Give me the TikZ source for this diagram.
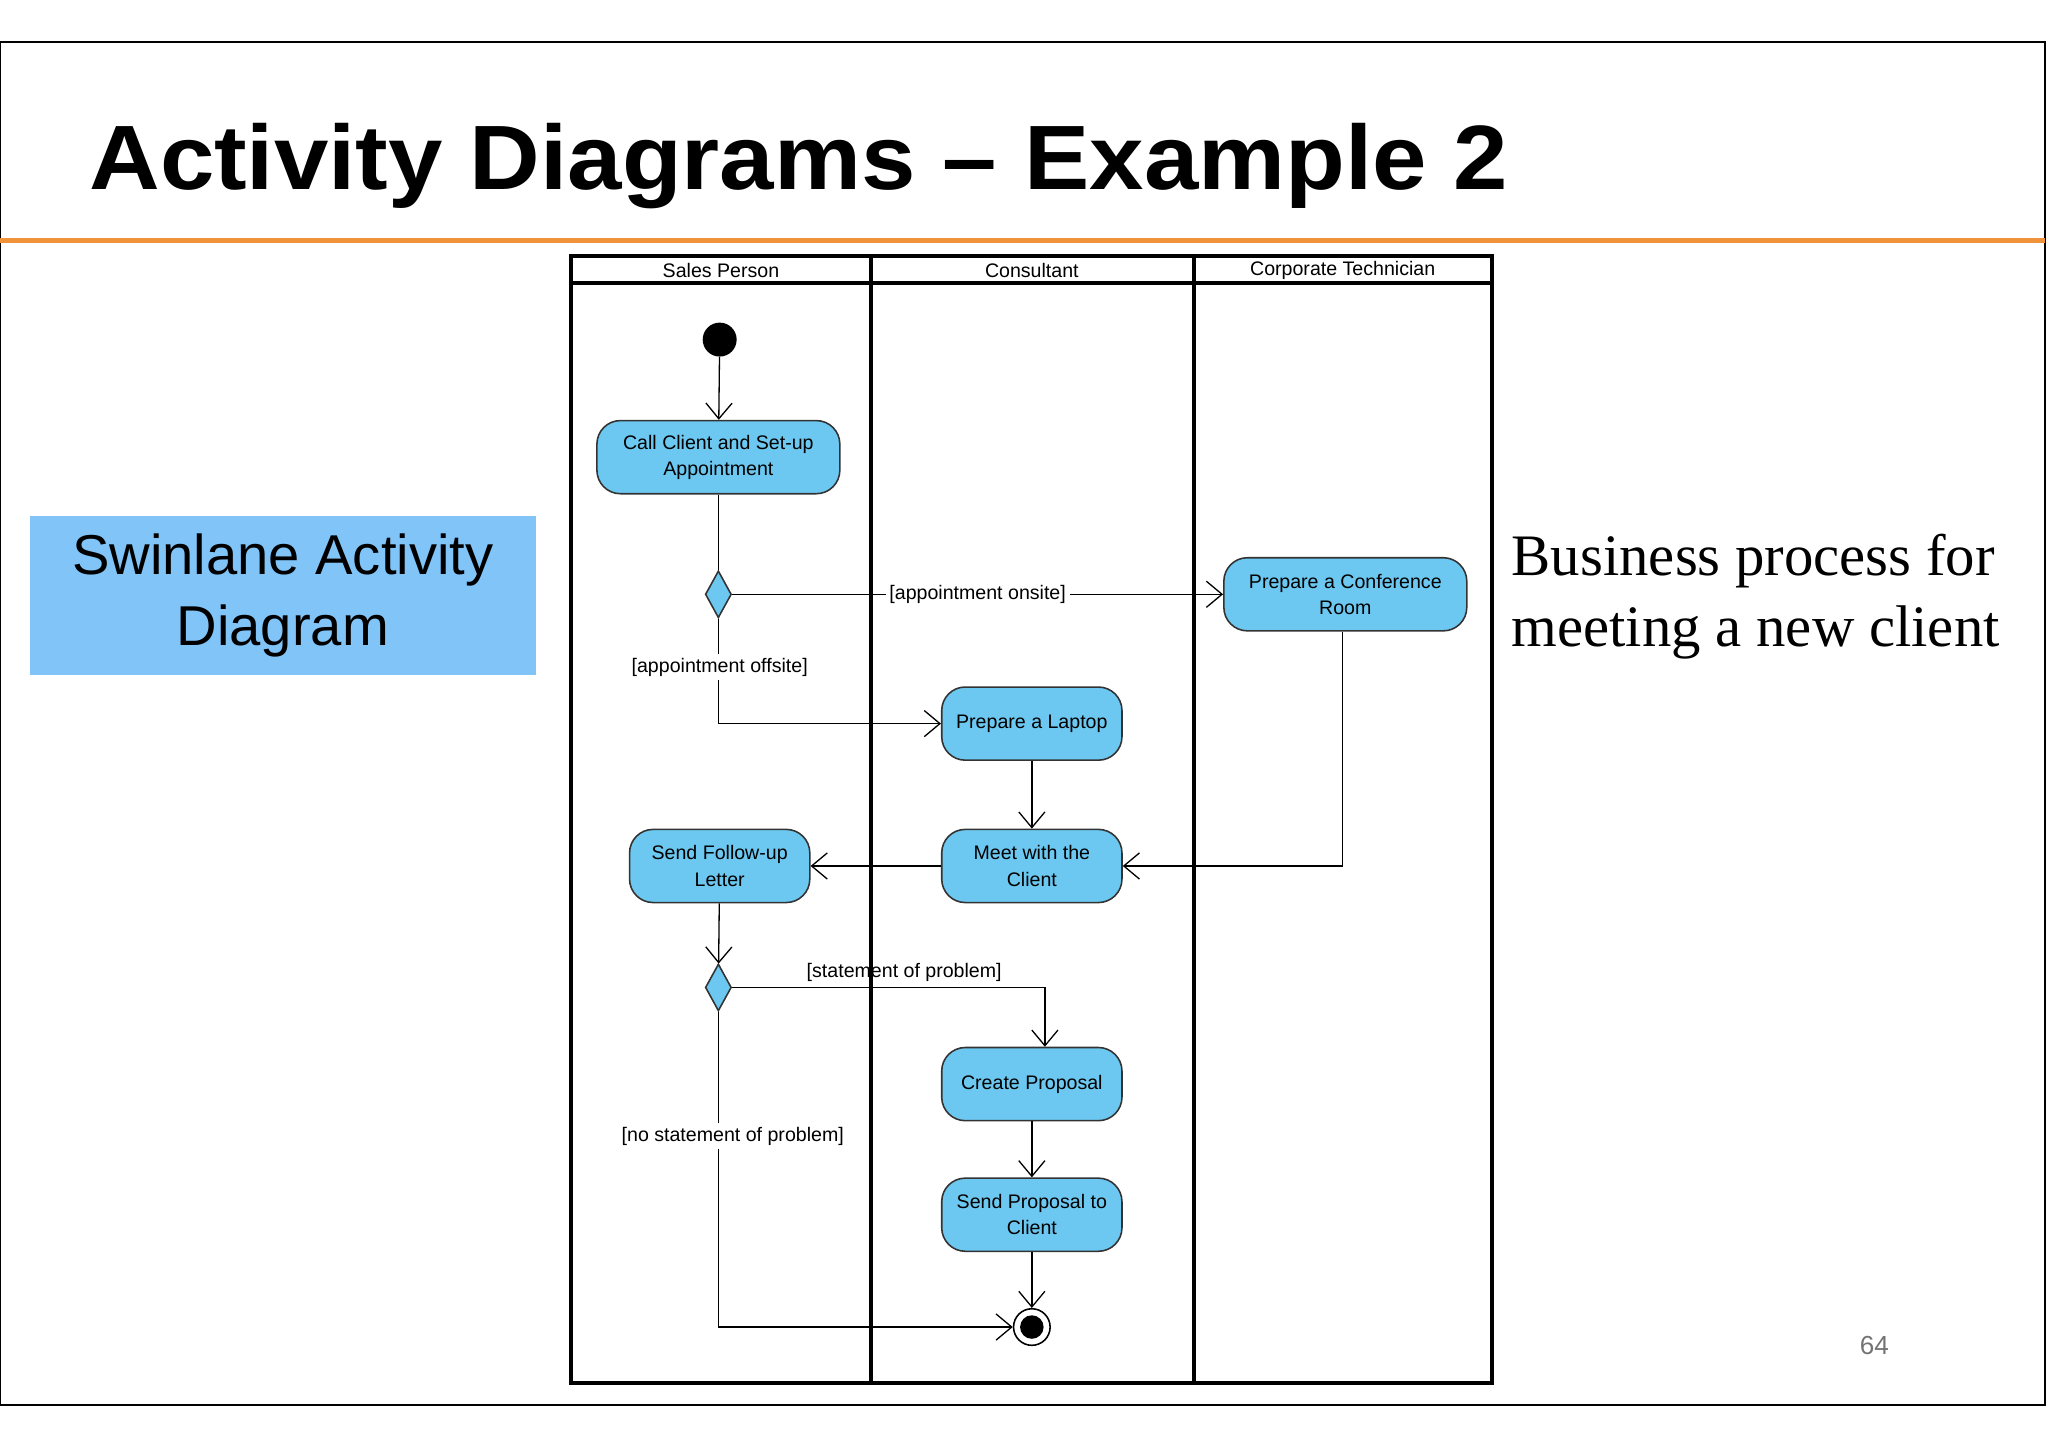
\documentclass[tikz,border=0pt]{standalone}
\usepackage{fontspec}
\setmainfont{Liberation Sans}
\newfontfamily\serifff{Liberation Serif}
\usetikzlibrary{shapes.geometric,arrows.meta}
\definecolor{act}{HTML}{6CC8F0}
\definecolor{boxblue}{HTML}{80C4F8}
\definecolor{orng}{HTML}{F0923A}
\begin{document}
\begin{tikzpicture}[x=0.5pt,y=-0.5pt,
 act/.style={rectangle,rounded corners=9pt,draw=black!80,fill=act,line width=0.6pt,minimum height=28pt,align=center,font=\fontsize{7.5}{10}\selectfont,inner sep=1pt},
 dec/.style={diamond,draw=black!80,fill=act,line width=0.6pt,minimum width=10pt,minimum height=18pt,inner sep=0pt,aspect=0.55},
 fl/.style={line width=0.5pt,-{Straight Barb[length=6pt,width=10pt]}},
 lbl/.style={font=\fontsize{7.5}{9}\selectfont,fill=white,inner sep=1.5pt},
 lane/.style={line width=1.5pt}]
\useasboundingbox (0,0) rectangle (1568,1109);
\draw[line width=0.8pt] (0,32) rectangle (1566,1076);
\draw[orng,line width=2pt] (0,184) -- (1566,184);
\node[anchor=base west,font=\fontsize{35}{40}\selectfont\bfseries,inner sep=0pt,xscale=1.07,transform shape] (title) at (68,145) {Activity Diagrams – Example 2};
\node[fill=boxblue,minimum width=193.5pt,minimum height=61pt,align=center,font=\fontsize{21.5}{27}\selectfont,inner sep=0pt] (sw) at (216.5,456) {Swinlane Activity\\Diagram};
\node[align=left,anchor=west,font=\serifff\fontsize{22.5}{27}\selectfont,inner sep=0pt] (biz) at (1157,457) {Business process for\\meeting a new client};
\node[text=black!55,font=\fontsize{10}{12}\selectfont] (pg) at (1435,1030) {64};
% lanes
\draw[lane] (437,196) rectangle (1142,1059);
\draw[lane] (437,217) -- (1142,217);
\draw[lane] (667,196) -- (667,1059);
\draw[lane] (914,196) -- (914,1059);
\node[font=\fontsize{7.5}{9}\selectfont] (h1) at (552,207) {Sales Person};
\node[font=\fontsize{7.5}{9}\selectfont] (h2) at (790,207) {Consultant};
\node[font=\fontsize{7.5}{9}\selectfont] (h3) at (1028,207) {Corporate Technician};
% nodes
\node[circle,fill=black,minimum size=13pt,inner sep=0pt] (start) at (551,260) {};
\node[act,minimum width=93pt] (call) at (550,350) {Call Client and Set-up\\Appointment};
\node[dec] (d1) at (550,455) {};
\node[act,minimum width=93pt] (conf) at (1030,455) {Prepare a Conference\\Room};
\node[act,minimum width=69pt] (lap) at (790,554) {Prepare a Laptop};
\node[act,minimum width=69pt] (meet) at (790,663) {Meet with the\\Client};
\node[act,minimum width=69pt] (fol) at (551,663) {Send Follow-up\\Letter};
\node[dec] (d2) at (550,756) {};
\node[act,minimum width=69pt] (cp) at (790,830) {Create Proposal};
\node[act,minimum width=69pt] (sp) at (790,930) {Send Proposal to\\Client};
\node[circle,draw,line width=0.6pt,minimum size=14pt,inner sep=0pt] (end) at (790,1016) {};
\node[circle,fill=black,minimum size=9pt,inner sep=0pt] (endi) at (790,1016) {};
\coordinate (c1) at (550,554);
\coordinate (c2) at (1028,663);
\coordinate (c3) at (800,756);
\coordinate (c4) at (550,1016);
% flows
\draw[fl] (start) -- (call);
\draw[line width=0.5pt] (call) -- (d1);
\draw[fl] (d1) -- node[lbl,pos=0.5] {[appointment onsite]} (conf);
\draw[fl] (d1) -- (c1) -- (lap);
\node[lbl] (l1) at (551,511) {[appointment offsite]};
\draw[fl] (lap) -- (meet);
\draw[fl] (conf.south -| c2) -- (c2) -- (meet);
\draw[fl] (meet) -- (fol);
\draw[fl] (fol) -- (d2);
\draw[fl] (d2) -- node[above,font=\fontsize{7.5}{9}\selectfont,pos=0.55,inner sep=2pt] {[statement of problem]} (c3) -- (cp.north -| c3);
\draw[fl] (cp) -- (sp);
\draw[fl] (sp) -- (end);
\draw[fl] (d2) -- (c4) -- (end);
\node[lbl] (l2) at (561,870) {[no statement of problem]};
\end{tikzpicture}
\end{document}
